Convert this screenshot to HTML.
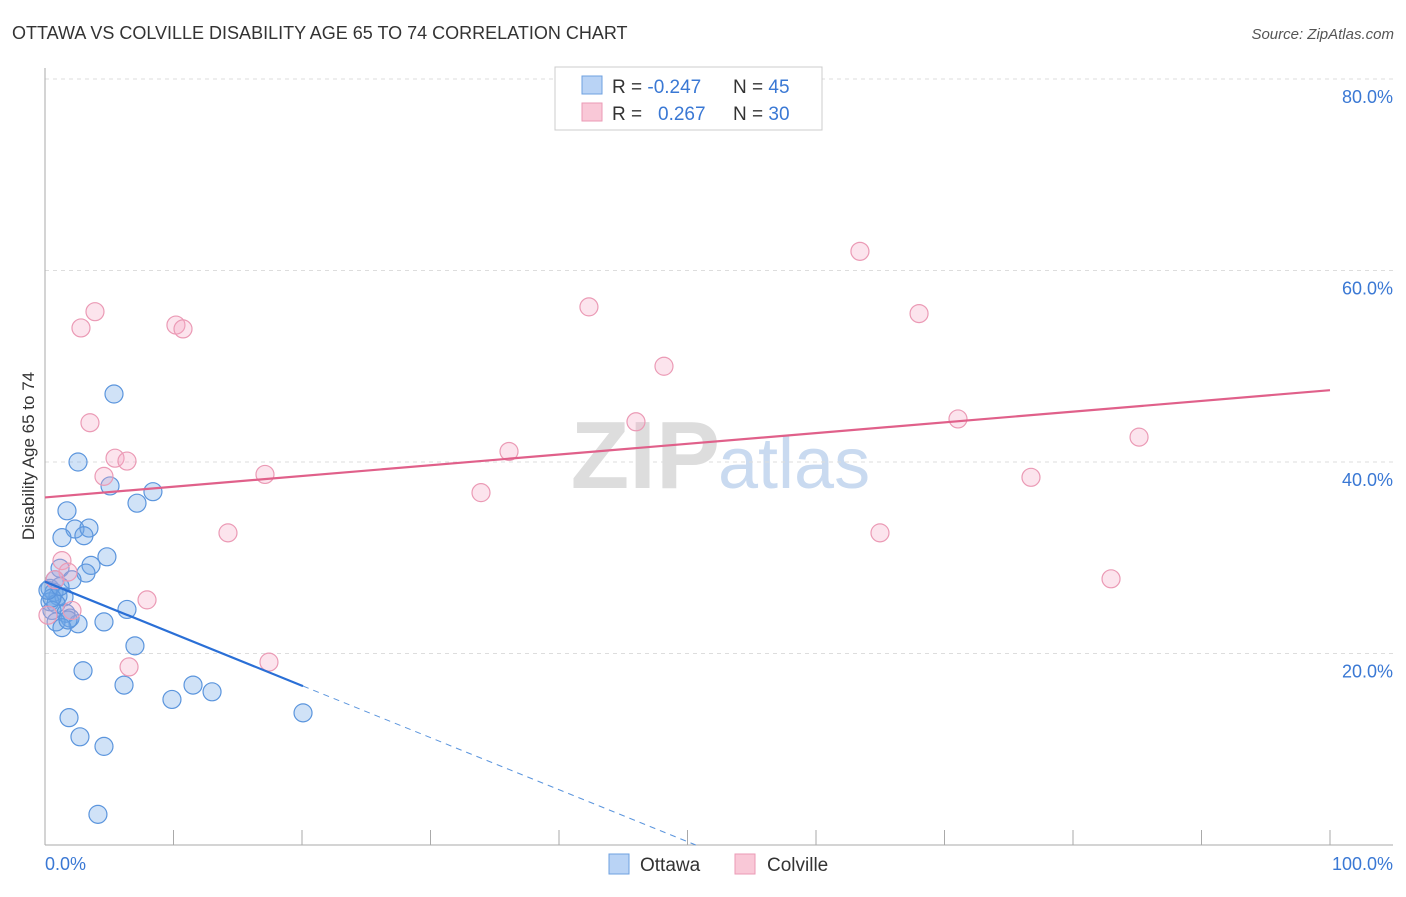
<!DOCTYPE html>
<html><head><meta charset="utf-8"><style>
body{margin:0;background:#fff;font-family:"Liberation Sans",sans-serif}
svg text{font-family:"Liberation Sans",sans-serif}
</style></head><body>
<svg id="c" width="1406" height="892" xmlns="http://www.w3.org/2000/svg">
<text x="12" y="39" font-size="18" fill="#333">OTTAWA VS COLVILLE DISABILITY AGE 65 TO 74 CORRELATION CHART</text>
<text x="1394" y="39" font-size="15" fill="#555" text-anchor="end" font-style="italic">Source: ZipAtlas.com</text>
<text x="720" y="488" font-size="96" fill="#ddd" text-anchor="end" font-family="Liberation Serif" font-weight="bold">ZIP</text>
<text x="718" y="488" font-size="72" fill="#c9daf0">atlas</text>
<g id="grid"></g>
<line x1="45" y1="68" x2="45" y2="845" stroke="#aaa"/>
<line x1="45" y1="845" x2="1393" y2="845" stroke="#aaa"/>
<g id="ticks"></g>
<text x="34" y="456" font-size="17" fill="#333" text-anchor="middle" transform="rotate(-90 34 456)">Disability Age 65 to 74</text>
<text x="45" y="870" font-size="18" fill="#3a78d4">0.0%</text>
<text x="1393" y="870" font-size="18" fill="#3a78d4" text-anchor="end">100.0%</text>
<g id="pts"></g>
<g id="lines"></g>
<g>
<rect x="555" y="67" width="267" height="63" fill="#fff" stroke="#ccc"/>
<rect x="582" y="76" width="20" height="18" fill="#b9d3f5" stroke="#6ea0e0"/>
<rect x="582" y="103" width="20" height="18" fill="#f9c8d7" stroke="#eb9ab5"/>
<text x="612" y="93" font-size="19" fill="#333">R = <tspan fill="#3a78d4">-0.247</tspan><tspan x="733">N = </tspan><tspan fill="#3a78d4">45</tspan></text>
<text x="612" y="120" font-size="19" fill="#333">R = <tspan x="658" fill="#3a78d4">0.267</tspan><tspan x="733">N = </tspan><tspan fill="#3a78d4">30</tspan></text>
</g>
<g><rect x="609" y="854" width="20" height="20" fill="#b9d3f5" stroke="#6ea0e0"/><text x="640" y="871" font-size="19" fill="#333">Ottawa</text></g>
<g><rect x="735" y="854" width="20" height="20" fill="#f9c8d7" stroke="#eb9ab5"/><text x="767" y="871" font-size="19" fill="#333">Colville</text></g>
</svg>
<script>
const yTicks=[20,40,60,80];
const xTickVals=[10,20,30,40,50,60,70,80,90,100];
const ottawaX=[5.37,2.57,5.06,8.40,7.16,1.71,2.33,3.42,3.03,1.32,4.82,3.58,1.17,3.19,2.10,0.39,0.70,1.01,1.48,0.39,0.86,0.54,1.63,1.95,6.38,0.86,2.57,4.59,1.32,1.79,7.00,2.96,6.15,11.52,9.88,13.0,1.87,2.72,4.59,4.12,20.08,0.54,0.23,1.17,0.78];
const ottawaY=[47.1,40.0,37.5,36.9,35.7,34.9,33.0,33.1,32.3,32.1,30.1,29.2,28.9,28.4,27.7,26.8,26.4,26.0,25.9,25.4,25.2,24.5,24.2,23.7,24.6,23.3,23.1,23.3,22.7,23.5,20.8,18.2,16.7,16.7,15.2,16.0,13.3,11.3,10.3,3.2,13.8,25.8,26.6,27.0,27.7];
const colvilleX=[3.89,2.80,10.19,10.74,3.50,5.45,6.38,4.59,17.12,1.32,1.79,0.78,2.10,0.23,7.94,6.54,17.43,14.24,33.93,36.11,42.33,45.99,48.17,63.42,68.02,71.05,64.98,76.73,85.14,82.96];
const colvilleY=[55.7,54.0,54.3,53.9,44.1,40.4,40.1,38.5,38.7,29.7,28.5,27.7,24.5,24.0,25.6,18.6,19.1,32.6,36.8,41.1,56.2,44.2,50.0,62.0,55.5,44.5,32.6,38.4,42.6,27.8];
const ottawaTrend=[27.5,-0.543];
const colvilleTrend=[36.3,0.112];
const NS="http://www.w3.org/2000/svg";
const sx=v=>45+v*12.85, sy=v=>845-v*9.575;
function mk(t,a,p){const e=document.createElementNS(NS,t);for(const k in a)e.setAttribute(k,a[k]);p.appendChild(e);return e;}
const grid=document.getElementById('grid'),ticks=document.getElementById('ticks');
yTicks.forEach(t=>{
 const l=mk('line',{x1:45,x2:1393,y1:sy(t),y2:sy(t),stroke:'#ddd','stroke-dasharray':'4 4'},grid);
 
 
 const tx=mk('text',{x:1393,y:sy(t)+24,'font-size':18,fill:'#3a78d4','text-anchor':'end'},grid);
 tx.textContent=t.toFixed(1)+'%';
 
 
});
xTickVals.forEach(t=>{
 const l=mk('line',{x1:sx(t),x2:sx(t),y1:830,y2:845,stroke:'#aaa'},ticks);
 
 
});
const pts=document.getElementById('pts');
ottawaX.forEach((x,i)=>{
 const c=mk('circle',{cx:sx(x),cy:sy(ottawaY[i]),r:9,fill:'rgba(110,165,230,0.32)',stroke:'#5b95dd','stroke-width':1.2},pts);
 
 
});
colvilleX.forEach((x,i)=>{
 const c=mk('circle',{cx:sx(x),cy:sy(colvilleY[i]),r:9,fill:'rgba(245,165,195,0.3)',stroke:'#eb9ab5','stroke-width':1.2},pts);
 
 
});
const lines=document.getElementById('lines');
const bEnd=20.08, bZero=-ottawaTrend[0]/ottawaTrend[1];
let l1=mk('line',{x1:sx(0),y1:sy(ottawaTrend[0]),x2:sx(bEnd),y2:sy(ottawaTrend[0]+ottawaTrend[1]*bEnd),stroke:'#2a6fd6','stroke-width':2.2},lines);


let l2=mk('line',{x1:sx(bEnd),y1:sy(ottawaTrend[0]+ottawaTrend[1]*bEnd),x2:sx(bZero),y2:sy(0),stroke:'#5b95dd','stroke-width':1,'stroke-dasharray':'6 5'},lines);


let l3=mk('line',{x1:sx(0),y1:sy(colvilleTrend[0]),x2:sx(100),y2:sy(colvilleTrend[0]+colvilleTrend[1]*100),stroke:'#e0608a','stroke-width':2.2},lines);


</script>
</body></html>
